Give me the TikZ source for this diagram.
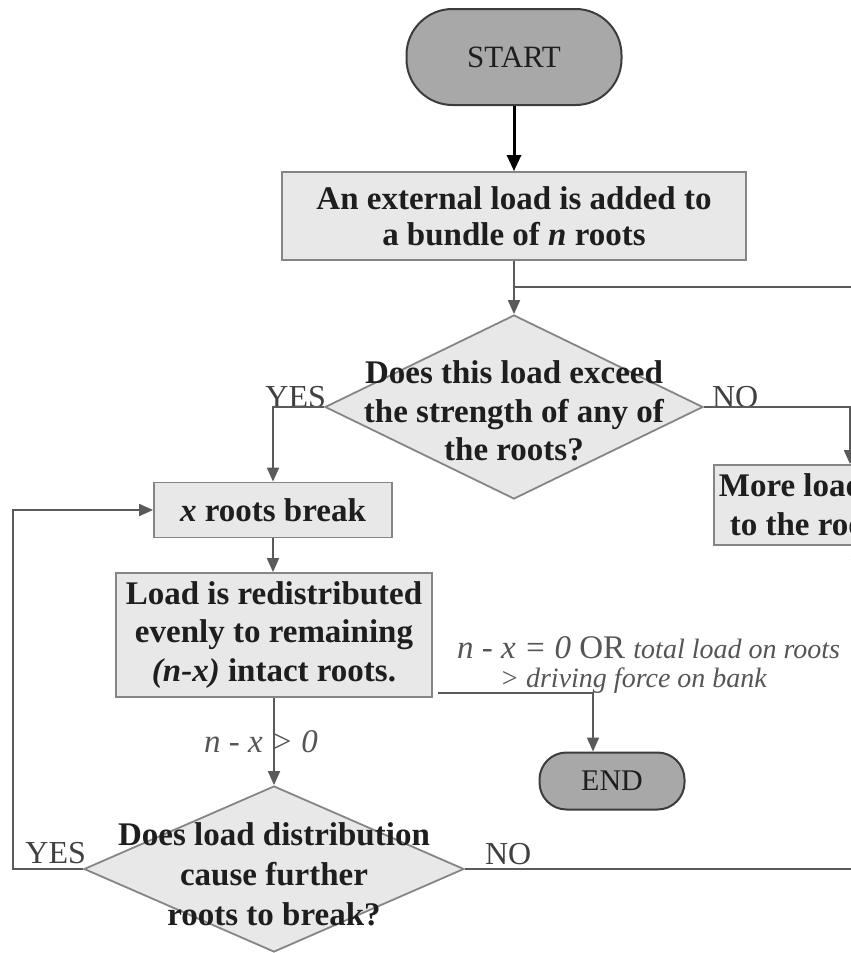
\documentclass[tikz,border=0pt]{standalone}
\usepackage{fontspec}
\setmainfont{Liberation Serif}
\usetikzlibrary{arrows.meta,shapes.geometric}

\definecolor{boxfill}{HTML}{E8E8E8}
\definecolor{boxline}{HTML}{858585}
\definecolor{termfill}{HTML}{A8A8A8}
\definecolor{termline}{HTML}{3C3C3C}
\definecolor{linkcol}{HTML}{5A5A5A}
\definecolor{inkcol}{HTML}{1E1E1E}
\definecolor{notecol}{HTML}{555555}

\begin{document}
\begin{tikzpicture}[x=1pt,y=-1pt,
  box/.style={draw=boxline, line width=1.8pt, fill=boxfill, inner sep=0pt,
    align=center, text=inkcol, font=\fontsize{33}{37}\selectfont\bfseries},
  term/.style={draw=termline, line width=2pt, fill=termfill, inner sep=0pt,
    text=inkcol, font=\fontsize{31}{36}\selectfont},
  decision/.style={diamond, draw=boxline, line width=1.8pt, fill=boxfill,
    inner sep=0pt},
  qtext/.style={align=center, text=inkcol, inner sep=0pt,
    font=\fontsize{33}{38.5}\selectfont\bfseries},
  lbl/.style={inner sep=0pt, text=inkcol!85, font=\fontsize{32}{36}\selectfont},
  note/.style={inner sep=0pt, text=notecol, font=\fontsize{33}{36}\selectfont},
  link/.style={draw=linkcol, line width=1.8pt},
  conn/.style={link, -{Triangle[length=14pt,width=12pt]}},
  startarrow/.style={draw=black, line width=3pt, -{Triangle[length=16pt,width=14pt]}}
]
\useasboundingbox (0,0) rectangle (851,953);
\clip (0,0) rectangle (851,953);

% terminals
\node[term, rounded corners=46pt, minimum width=215pt, minimum height=96pt]
  (start) at (514,57) {START};
\node[term, rounded corners=27pt, minimum width=145pt, minimum height=57pt,
  font=\fontsize{30}{34}\selectfont] (stop) at (612,781) {END};

% process boxes
\node[box, minimum width=464pt, minimum height=88pt] (load) at (514,216)
  {An external load is added to\\[-1pt]a bundle of \textit{n} roots};
\node[box, minimum width=238pt, minimum height=55pt] (brk) at (273,510)
  {\textit{x} roots break};
\node[box, minimum width=316pt, minimum height=124pt,
  font=\fontsize{33}{38.5}\selectfont\bfseries] (redist) at (274,635)
  {Load is redistributed\\evenly to remaining\\\textit{(n-x)} intact roots.};
\node[box, anchor=west, align=left, inner xsep=5pt, inner ysep=0pt,
  minimum height=80pt, font=\fontsize{33}{39}\selectfont\bfseries]
  (more) at (713,505) {More load\\\hspace*{11pt}to the roots};

% decisions
\node[decision, minimum width=378pt, minimum height=184pt] (q1) at (514,407) {};
\node[qtext] (q1t) at (514,411)
  {Does this load exceed\\the strength of any of\\the roots?};
\node[decision, minimum width=380pt, minimum height=166pt] (q2) at (274,869) {};
\node[qtext, font=\fontsize{33}{40}\selectfont\bfseries] (q2t) at (274,874)
  {Does load distribution\\cause further\\roots to break?};

% branch labels
\node[lbl, anchor=base east] (q1yes) at ([xshift=2pt]q1.west) {YES};
\node[lbl, anchor=base west] (q1no) at ([xshift=8pt]q1.east) {NO};
\node[lbl, anchor=base east] (q2yes) at ([shift={(3,-6)}]q2.west) {YES};
\node[lbl, anchor=base west] (q2no) at ([shift={(20,-5)}]q2.east) {NO};
\node[note, anchor=base] (cont) at (261,752) {\textit{n - x > 0}};
\node[note, anchor=base west] (stopA) at (457,658)
  {\textit{n - x = 0} OR {\fontsize{28}{30}\selectfont\textit{total load on roots}}};
\node[note, anchor=base west, font=\fontsize{28}{30}\selectfont] (stopB) at (500,687)
  {\textit{> driving force on bank}};

% routing points
\coordinate (join) at (514,287);
\coordinate (rxa) at (850,0);
\coordinate (rxb) at (857,0);
\coordinate (lx) at (13,0);
\coordinate (ex) at (593,0);

% connectors
\draw[startarrow] (start.south) -- (load.north);
\draw[conn] (load.south) -- (q1.north);
\draw[link] (more.east) -- ++(25,0) |- (join);
\draw[conn] (q1.west) -| (brk.north);
\draw[conn] (q1.east) -| (rxa |- more.north);
\draw[conn] (brk.south) -- (brk.south |- redist.north);
\draw[conn] (redist.south) -- (q2.north);
\draw[conn] ([shift={(5,-5)}]redist.south east) -| (ex |- stop.north);
\draw[conn] (q2.west) -- (lx |- q2.west) |- (brk.west);
\draw[conn] (q2.east) -| (rxb |- more.south);
\end{tikzpicture}
\end{document}
